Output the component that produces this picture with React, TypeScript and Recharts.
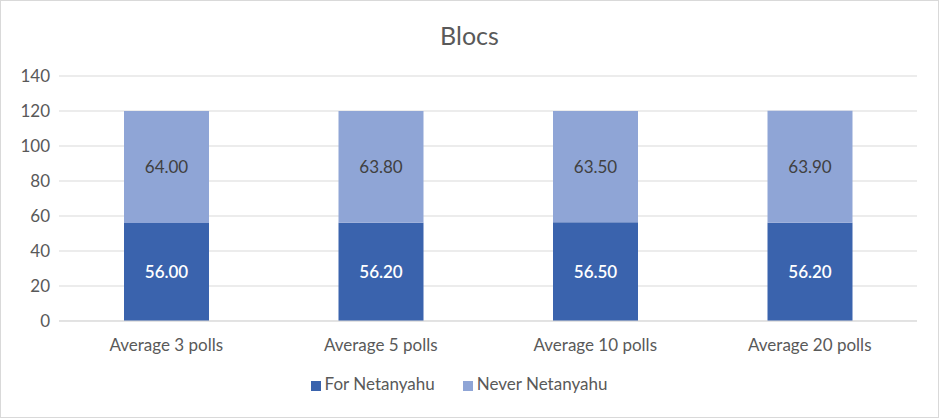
import { Bar, BarChart, CartesianGrid, LabelList, Legend, XAxis, YAxis } from "recharts";

const categories = ["Average 3 polls", "Average 5 polls", "Average 10 polls", "Average 20 polls"];
const forNetanyahu = [56.0, 56.2, 56.5, 56.2];
const neverNetanyahu = [64.0, 63.8, 63.5, 63.9];
const yTicks = [0, 20, 40, 60, 80, 100, 120, 140];

const data = categories.map((name, i) => ({
  name,
  forN: forNetanyahu[i],
  neverN: neverNetanyahu[i],
}));

const FONT = "Lato, 'Open Sans', sans-serif";
const fmt = (v: number) => Number(v).toFixed(2);

export default function App() {
  return (
    <div
      style={{
        position: "absolute",
        left: 0,
        top: 0,
        width: 937,
        height: 416,
        border: "1px solid #d9d9d9",
        background: "#fff",
        fontFamily: FONT,
      }}
    >
      <div
        style={{
          position: "absolute",
          top: 19,
          width: "100%",
          textAlign: "center",
          fontSize: 25,
          color: "#595959",
        }}
      >
        Blocs
      </div>
      <BarChart
        width={937}
        height={416}
        data={data}
        margin={{ top: 75, right: 21, bottom: 20, left: 0 }}
        barSize={85}
      >
        <CartesianGrid vertical={false} stroke="#d9d9d9" />
        <XAxis
          dataKey="name"
          tickLine={false}
          axisLine={{ stroke: "#d9d9d9" }}
          tick={{ fill: "#595959", fontSize: 17 }}
          tickMargin={12}
          height={55}
        />
        <YAxis
          ticks={yTicks}
          domain={[0, 140]}
          width={58}
          tickLine={false}
          axisLine={false}
          tickMargin={3}
          tick={{ fill: "#595959", fontSize: 17 }}
        />
        <Legend
          verticalAlign="bottom"
          iconType="square"
          iconSize={10}
          wrapperStyle={{ fontSize: 17, color: "#595959", bottom: 23, paddingLeft: 14 }}
          formatter={(value) => <span style={{ color: "#595959", marginRight: 18 }}>{value}</span>}
        />
        <Bar dataKey="forN" name="For Netanyahu" stackId="a" fill="#3a63ad" isAnimationActive={false}>
          <LabelList dataKey="forN" position="center" formatter={fmt} fill="#ffffff" fontSize={17} fontWeight={600} />
        </Bar>
        <Bar dataKey="neverN" name="Never Netanyahu" stackId="a" fill="#8fa5d6" isAnimationActive={false}>
          <LabelList dataKey="neverN" position="center" formatter={fmt} fill="#404040" fontSize={17} />
        </Bar>
      </BarChart>
    </div>
  );
}
